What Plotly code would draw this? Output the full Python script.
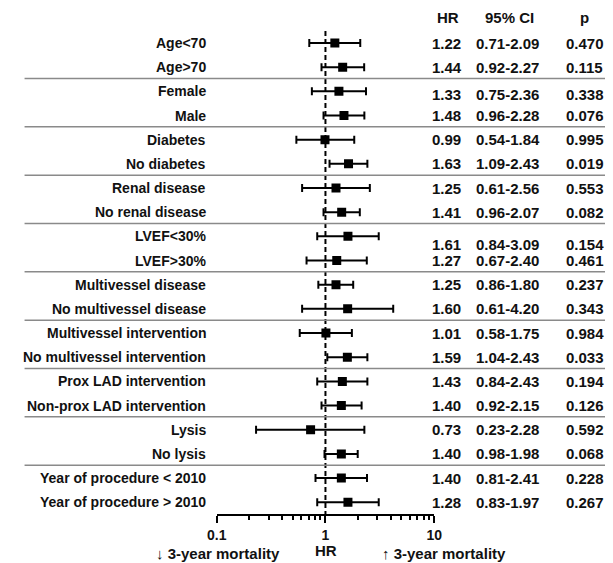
import plotly.graph_objects as go

# ---------------- data ----------------
labels = ["Age<70", "Age>70", "Female", "Male", "Diabetes", "No diabetes",
          "Renal disease", "No renal disease", "LVEF<30%", "LVEF>30%",
          "Multivessel disease", "No multivessel disease",
          "Multivessel intervention", "No multivessel intervention",
          "Prox LAD intervention", "Non-prox LAD intervention",
          "Lysis", "No lysis", "Year of procedure < 2010", "Year of procedure > 2010"]
hr_text = ["1.22", "1.44", "1.33", "1.48", "0.99", "1.63", "1.25", "1.41", "1.61", "1.27",
           "1.25", "1.60", "1.01", "1.59", "1.43", "1.40", "0.73", "1.40", "1.40", "1.28"]
ci_text = ["0.71-2.09", "0.92-2.27", "0.75-2.36", "0.96-2.28", "0.54-1.84", "1.09-2.43",
           "0.61-2.56", "0.96-2.07", "0.84-3.09", "0.67-2.40", "0.86-1.80", "0.61-4.20",
           "0.58-1.75", "1.04-2.43", "0.84-2.43", "0.92-2.15", "0.23-2.28", "0.98-1.98",
           "0.81-2.41", "0.83-1.97"]
p_text = ["0.470", "0.115", "0.338", "0.076", "0.995", "0.019", "0.553", "0.082", "0.154", "0.461",
          "0.237", "0.343", "0.984", "0.033", "0.194", "0.126", "0.592", "0.068", "0.228", "0.267"]
# plotted marks (as drawn in the picture)
hr_mark = [1.22, 1.44, 1.33, 1.48, 0.99, 1.63, 1.25, 1.41, 1.61, 1.27,
           1.25, 1.60, 1.01, 1.59, 1.43, 1.40, 0.73, 1.40, 1.40, 1.61]
lo_mark = [0.71, 0.92, 0.75, 0.96, 0.54, 1.09, 0.61, 0.96, 0.84, 0.67,
           0.86, 0.61, 0.58, 1.04, 0.84, 0.92, 0.23, 0.98, 0.81, 0.84]
hi_mark = [2.09, 2.27, 2.36, 2.28, 1.84, 2.43, 2.56, 2.07, 3.09, 2.40,
           1.80, 4.20, 1.75, 2.43, 2.43, 2.15, 2.28, 1.98, 2.41, 3.09]
major_ticks = [0.1, 1, 10]
major_labels = ["0.1", "1", "10"]
minor_ticks = [0.2, 0.3, 0.4, 0.5, 0.6, 0.7, 0.8, 0.9, 2, 3, 4, 5, 6, 7, 8, 9]
headers = ["HR", "95% CI", "p"]

# ---------------- layout helpers ----------------
W, H = 613, 563
Y0, PITCH = 43.0, 24.17
ys = [Y0 + i * PITCH for i in range(len(labels))]
AXIS_Y = 515
FONT = "Liberation Sans, Arial, sans-serif"
TXT = "#111111"

fig = go.Figure()
fig.add_trace(go.Scatter(
    x=hr_mark, y=ys, mode="markers",
    marker=dict(symbol="square", size=9, color="black"),
    error_x=dict(type="data", symmetric=False,
                 array=[h - m for h, m in zip(hi_mark, hr_mark)],
                 arrayminus=[m - l for m, l in zip(hr_mark, lo_mark)],
                 color="black", thickness=2, width=4),
    showlegend=False, hoverinfo="skip"))

shapes = []
# dashed reference line at HR = 1
shapes.append(dict(type="line", xref="x", yref="y", x0=1, x1=1, y0=31, y1=AXIS_Y,
                   line=dict(color="black", width=2, dash="5px,3px")))
# group separators
for g in range(1, len(labels) // 2):
    yy = (ys[2 * g - 1] + ys[2 * g]) / 2 - 0.8
    shapes.append(dict(type="line", xref="paper", yref="y", x0=15 / W, x1=1, y0=yy, y1=yy,
                       line=dict(color="#8a8a8a", width=1.5)))

ann = []
def add(text, xpx, ypx, size, anchor="center"):
    ann.append(dict(text=text, x=xpx / W, y=ypx, xref="paper", yref="y", showarrow=False,
                    xanchor=anchor, yanchor="middle",
                    font=dict(family=FONT, size=size, color=TXT, weight="bold")))

num_offset = {2: 3, 8: 8}
for i, lab in enumerate(labels):
    add(lab, 204, ys[i], 14, "right")
    yy = ys[i] + num_offset.get(i, 0)
    add(hr_text[i], 450, yy, 15)
    add(ci_text[i], 513, yy, 15)
    add(p_text[i], 592, yy, 15)

for h, xh in zip(headers, [451, 515, 592]):
    add(h, xh, 17, 15)

add("↓ 3-year mortality", 214, 553, 15)
add("HR", 326, 550, 15)
add("↑ 3-year mortality", 447, 553, 15)

fig.update_layout(
    width=W, height=H, margin=dict(l=0, r=0, t=0, b=0),
    paper_bgcolor="white", plot_bgcolor="white",
    shapes=shapes, annotations=ann,
    xaxis=dict(type="log", range=[-1, 1], domain=[213 / W, 437 / W],
               anchor="free", position=(H - AXIS_Y) / H,
               showline=True, linecolor="black", linewidth=2,
               ticks="outside", ticklen=7, tickwidth=2, tickcolor="black",
               tickvals=major_ticks, ticktext=major_labels,
               tickfont=dict(family=FONT, size=14, color=TXT, weight="bold"),
               minor=dict(tickvals=minor_ticks, ticks="outside", ticklen=4,
                          tickwidth=1.5, tickcolor="black", showgrid=False),
               showgrid=False, zeroline=False, fixedrange=True),
    yaxis=dict(range=[H, 0], domain=[0, 1], visible=False, showgrid=False,
               zeroline=False, fixedrange=True),
)

fig.write_html("out.html", config={"displayModeBar": False},
               post_script="document.body.style.margin='0';document.body.style.overflow='hidden';")
